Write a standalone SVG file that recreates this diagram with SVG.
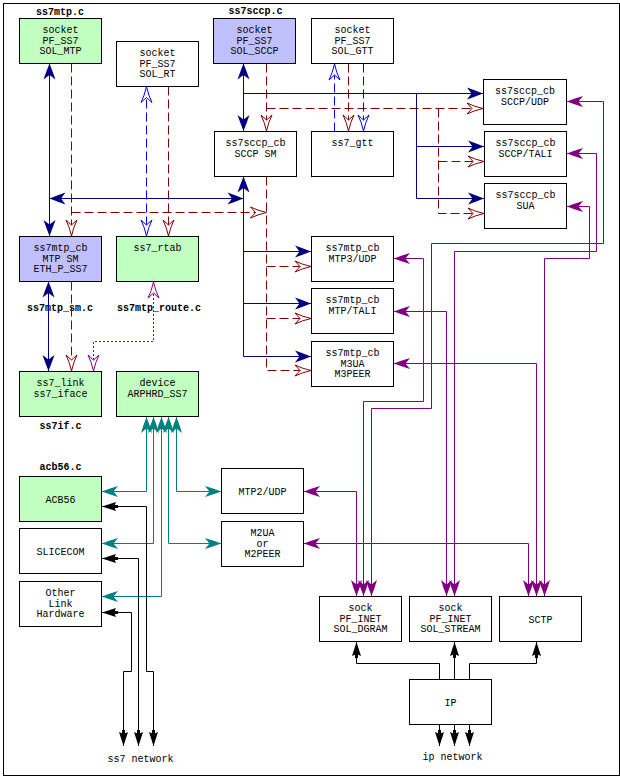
<svg xmlns="http://www.w3.org/2000/svg" width="620" height="777" viewBox="0 0 620 777">
<style>
.box{stroke:#000;stroke-width:1;fill:#fff}
.g{fill:#c0ffc0}
.b{fill:#c0c0ff}
text{font-family:"Liberation Mono","DejaVu Sans Mono",monospace;font-size:10px;text-anchor:middle;fill:#000}
.lbl{font-weight:bold}
.c{fill:none;stroke-width:1}
.navy{stroke:#000080}
.red{stroke:#800000;stroke-dasharray:9 4}
.blue{stroke:#0000ff;stroke-dasharray:9 4}
.dot{stroke:#800080;stroke-dasharray:2 2}
.teal{stroke:#008080}
.pur{stroke:#800080}
.blk{stroke:#000}
</style>
<defs>
<marker id="aNavy" markerUnits="userSpaceOnUse" markerWidth="18" markerHeight="14" refX="16" refY="7" orient="auto-start-reverse" overflow="visible"><path d="M16,7 Q8,3.8 0,1 L4.5,7 L0,13 Q8,10.2 16,7Z" fill="#000080"/></marker>
<marker id="aTeal" markerUnits="userSpaceOnUse" markerWidth="18" markerHeight="14" refX="16" refY="7" orient="auto-start-reverse" overflow="visible"><path d="M16,7 Q8,3.8 0,1.5 L4.5,7 L0,12.5 Q8,10.2 16,7Z" fill="#008080"/></marker>
<marker id="aPur" markerUnits="userSpaceOnUse" markerWidth="18" markerHeight="14" refX="16" refY="7" orient="auto-start-reverse" overflow="visible"><path d="M16,7 Q8,3.8 0,1.5 L4.5,7 L0,12.5 Q8,10.2 16,7Z" fill="#800080"/></marker>
<marker id="aBlk" markerUnits="userSpaceOnUse" markerWidth="18" markerHeight="14" refX="16" refY="7" orient="auto-start-reverse" overflow="visible"><path d="M16,7 L2,2.5 L4,7 L2,11.5 Z M4,5.5 L0,5.5 L0,8.5 L4,8.5Z" fill="#000"/></marker>
<marker id="oRed" markerUnits="userSpaceOnUse" markerWidth="18" markerHeight="14" refX="16" refY="7" orient="auto-start-reverse" overflow="visible"><path d="M16,7 Q7,5 0,1.5 L5,7 L0,12.5 Q7,9 16,7Z" fill="#fff" stroke="#800000" stroke-width="1"/></marker>
<marker id="oBlue" markerUnits="userSpaceOnUse" markerWidth="18" markerHeight="14" refX="16" refY="7" orient="auto-start-reverse" overflow="visible"><path d="M16,7 Q7,5 0,1.5 L5,7 L0,12.5 Q7,9 16,7Z" fill="#fff" stroke="#0000ff" stroke-width="1"/></marker>
<marker id="oPur" markerUnits="userSpaceOnUse" markerWidth="18" markerHeight="14" refX="16" refY="7" orient="auto-start-reverse" overflow="visible"><path d="M16,7 Q7,5 0,1.5 L5,7 L0,12.5 Q7,9 16,7Z" fill="#fff" stroke="#800080" stroke-width="1"/></marker>
</defs>
<rect x="0" y="0" width="620" height="777" fill="#fff"/>
<rect x="3.5" y="3.5" width="616" height="772" fill="none" stroke="#000" stroke-width="1"/>

<g id="labels">
<text class="lbl" x="60" y="15">ss7mtp.c</text>
<text class="lbl" x="255.5" y="13.5">ss7sccp.c</text>
<text class="lbl" x="60" y="310.5">ss7mtp_sm.c</text>
<text class="lbl" x="159" y="310.5">ss7mtp_route.c</text>
<text class="lbl" x="60.5" y="428.5">ss7if.c</text>
<text class="lbl" x="60.5" y="470">acb56.c</text>
<text x="140.5" y="762">ss7 network</text>
<text x="452.5" y="760">ip network</text>
</g>

<g id="mtpsock"><rect class="box g" x="19.5" y="18.5" width="82" height="45"/><text x="60.5" y="33">socket</text><text x="60.5" y="43.5">PF_SS7</text><text x="60.5" y="54">SOL_MTP</text></g>
<g id="rtsock"><rect class="box" x="116.5" y="41.5" width="82" height="45"/><text x="157.5" y="56">socket</text><text x="157.5" y="66.5">PF_SS7</text><text x="157.5" y="77">SOL_RT</text></g>
<g id="sccpsock"><rect class="box b" x="213.5" y="18.5" width="82" height="45"/><text x="254.5" y="33">socket</text><text x="254.5" y="43.5">PF_SS7</text><text x="254.5" y="54">SOL_SCCP</text></g>
<g id="gttsock"><rect class="box" x="311.5" y="18.5" width="82" height="45"/><text x="352.5" y="33">socket</text><text x="352.5" y="43.5">PF_SS7</text><text x="352.5" y="54">SOL_GTT</text></g>
<g id="sccpsm"><rect class="box" x="214.5" y="131.5" width="82" height="45"/><text x="255.5" y="146">ss7sccp_cb</text><text x="255.5" y="156.5">SCCP SM</text></g>
<g id="gtt"><rect class="box" x="311.5" y="131.5" width="82" height="45"/><text x="352.5" y="146">ss7_gtt</text></g>
<g id="sccpudp"><rect class="box" x="483.5" y="79.5" width="83" height="45"/><text x="525" y="94">ss7sccp_cb</text><text x="525" y="104.5">SCCP/UDP</text></g>
<g id="sccptali"><rect class="box" x="484.5" y="131.5" width="82" height="45"/><text x="525.5" y="146">ss7sccp_cb</text><text x="525.5" y="156.5">SCCP/TALI</text></g>
<g id="sua"><rect class="box" x="484.5" y="183.5" width="82" height="45"/><text x="525.5" y="198">ss7sccp_cb</text><text x="525.5" y="208.5">SUA</text></g>
<g id="mtpsm"><rect class="box b" x="19.5" y="236.5" width="82" height="45"/><text x="60.5" y="251">ss7mtp_cb</text><text x="60.5" y="261.5">MTP SM</text><text x="60.5" y="272">ETH_P_SS7</text></g>
<g id="rtab"><rect class="box g" x="116.5" y="236.5" width="82" height="45"/><text x="157.5" y="251">ss7_rtab</text></g>
<g id="mtp3udp"><rect class="box" x="311.5" y="236.5" width="82" height="45"/><text x="352.5" y="251">ss7mtp_cb</text><text x="352.5" y="261.5">MTP3/UDP</text></g>
<g id="mtptali"><rect class="box" x="311.5" y="288.5" width="82" height="45"/><text x="352.5" y="303">ss7mtp_cb</text><text x="352.5" y="313.5">MTP/TALI</text></g>
<g id="m3ua"><rect class="box" x="311.5" y="341.5" width="82" height="45"/><text x="352.5" y="356">ss7mtp_cb</text><text x="352.5" y="366.5">M3UA</text><text x="352.5" y="377">M3PEER</text></g>
<g id="link"><rect class="box g" x="19.5" y="371.5" width="82" height="45"/><text x="60.5" y="386">ss7_link</text><text x="60.5" y="396.5">ss7_iface</text></g>
<g id="device"><rect class="box g" x="116.5" y="371.5" width="82" height="45"/><text x="157.5" y="386">device</text><text x="157.5" y="396.5">ARPHRD_SS7</text></g>
<g id="acb56"><rect class="box g" x="19.5" y="476.5" width="82" height="45"/><text x="60.5" y="502.5">ACB56</text></g>
<g id="slicecom"><rect class="box" x="19.5" y="528.5" width="82" height="45"/><text x="60.5" y="554.5">SLICECOM</text></g>
<g id="otherhw"><rect class="box" x="19.5" y="581.5" width="82" height="45"/><text x="60.5" y="596">Other</text><text x="60.5" y="606.5">Link</text><text x="60.5" y="617">Hardware</text></g>
<g id="mtp2udp"><rect class="box" x="221.5" y="468.5" width="82" height="45"/><text x="262.5" y="494.5">MTP2/UDP</text></g>
<g id="m2ua"><rect class="box" x="221.5" y="521.5" width="82" height="45"/><text x="262.5" y="536">M2UA</text><text x="262.5" y="546.5">or</text><text x="262.5" y="557">M2PEER</text></g>
<g id="dgram"><rect class="box" x="319.5" y="596.5" width="82" height="45"/><text x="360.5" y="611">sock</text><text x="360.5" y="621.5">PF_INET</text><text x="360.5" y="632">SOL_DGRAM</text></g>
<g id="stream"><rect class="box" x="409.5" y="596.5" width="82" height="45"/><text x="450.5" y="611">sock</text><text x="450.5" y="621.5">PF_INET</text><text x="450.5" y="632">SOL_STREAM</text></g>
<g id="sctp"><rect class="box" x="499.5" y="596.5" width="82" height="45"/><text x="540.5" y="622.5">SCTP</text></g>
<g id="ip"><rect class="box" x="409.5" y="679.5" width="82" height="45"/><text x="450.5" y="705.5">IP</text></g>

<g id="connectors">
<g class="c navy">
<path d="M49.5,63.5 V236" marker-start="url(#aNavy)" marker-end="url(#aNavy)"/>
<path d="M49.5,198.5 H243.5" marker-start="url(#aNavy)" marker-end="url(#aNavy)"/>
<path d="M243.5,63.5 V131" marker-start="url(#aNavy)" marker-end="url(#aNavy)"/>
<path d="M243.5,93.5 H483" marker-end="url(#aNavy)"/>
<path d="M416.5,93.5 V198.5 H484" marker-end="url(#aNavy)"/>
<path d="M416.5,146.5 H484" marker-end="url(#aNavy)"/>
<path d="M243.5,176.5 V356.5 H311" marker-start="url(#aNavy)" marker-end="url(#aNavy)"/>
<path d="M243.5,251.5 H311" marker-end="url(#aNavy)"/>
<path d="M243.5,303.5 H311" marker-end="url(#aNavy)"/>
<path d="M48.5,281.5 V371" marker-start="url(#aNavy)" marker-end="url(#aNavy)"/>
</g>
<g class="c red">
<path d="M71.5,63.5 V236" marker-end="url(#oRed)"/>
<path d="M71.5,212.5 H266.5" marker-end="url(#oRed)"/>
<path d="M168.5,86.5 V236" marker-end="url(#oRed)"/>
<path d="M266.5,63.5 V131" marker-end="url(#oRed)"/>
<path d="M266.5,108.5 H483" marker-end="url(#oRed)"/>
<path d="M438.5,108.5 V213.5 H484" marker-end="url(#oRed)"/>
<path d="M438.5,161.5 H484" marker-end="url(#oRed)"/>
<path d="M266.5,176.5 V370.5 H311" marker-end="url(#oRed)"/>
<path d="M266.5,266.5 H311" marker-end="url(#oRed)"/>
<path d="M266.5,318.5 H311" marker-end="url(#oRed)"/>
<path d="M348.5,63.5 V131" marker-end="url(#oRed)"/>
<path d="M71.5,281.5 V371" marker-end="url(#oRed)"/>
</g>
<g class="c blue">
<path d="M146.5,86.5 V236" marker-start="url(#oBlue)" marker-end="url(#oBlue)"/>
<path d="M363.5,63.5 V131" marker-end="url(#oBlue)"/>
<path d="M334.5,131.5 V64" marker-end="url(#oBlue)"/>
</g>
<g class="c dot">
<path d="M153.5,282 V341.5 H93.5 V371" marker-start="url(#oPur)" marker-end="url(#oPur)"/>
</g>
<g class="c teal">
<path d="M146.5,417 V491.5 H102" marker-start="url(#aTeal)" marker-end="url(#aTeal)"/>
<path d="M153.5,417 V543.5 H102" marker-start="url(#aTeal)" marker-end="url(#aTeal)"/>
<path d="M161.5,417 V596.5 H102" marker-start="url(#aTeal)" marker-end="url(#aTeal)"/>
<path d="M168.5,417 V543.5 H221" marker-start="url(#aTeal)" marker-end="url(#aTeal)"/>
<path d="M176.5,417 V491.5 H221" marker-start="url(#aTeal)" marker-end="url(#aTeal)"/>
</g>
<g class="c blk">
<path d="M102,506.5 H146.5 V671.5 H153.5 V746" marker-start="url(#aBlk)" marker-end="url(#aBlk)"/>
<path d="M102,558.5 H138.5 V746" marker-start="url(#aBlk)" marker-end="url(#aBlk)"/>
<path d="M102,612.5 H131.5 V671.5 H123.5 V746" marker-start="url(#aBlk)" marker-end="url(#aBlk)"/>
<path d="M439.5,679.5 V663.5 H356.5 V642" marker-end="url(#aBlk)"/>
<path d="M454.5,679.5 V642" marker-end="url(#aBlk)"/>
<path d="M469.5,679.5 V663.5 H536.5 V642" marker-end="url(#aBlk)"/>
<path d="M439.5,724.5 V746" marker-end="url(#aBlk)"/>
<path d="M454.5,724.5 V746" marker-end="url(#aBlk)"/>
<path d="M469.5,724.5 V746" marker-end="url(#aBlk)"/>
</g>
<g class="c pur">
<path d="M304,491.5 H356.5 V596" marker-start="url(#aPur)" marker-end="url(#aPur)"/>
<path d="M304,543.5 H528.5 V596" marker-start="url(#aPur)" marker-end="url(#aPur)"/>
<path d="M394,258.5 H423.5 V401.5 H363.5 V596" marker-start="url(#aPur)" marker-end="url(#aPur)"/>
<path d="M567,101.5 H603.5 V243.5 H431.5 V408.5 H371.5 V596" marker-start="url(#aPur)" marker-end="url(#aPur)"/>
<path d="M394,311.5 H446.5 V596" marker-start="url(#aPur)" marker-end="url(#aPur)"/>
<path d="M567,153.5 H596.5 V251.5 H454.5 V596" marker-start="url(#aPur)" marker-end="url(#aPur)"/>
<path d="M394,363.5 H536.5 V596" marker-start="url(#aPur)" marker-end="url(#aPur)"/>
<path d="M567,206.5 H589.5 V258.5 H544.5 V596" marker-start="url(#aPur)" marker-end="url(#aPur)"/>
</g>
</g>
</svg>
